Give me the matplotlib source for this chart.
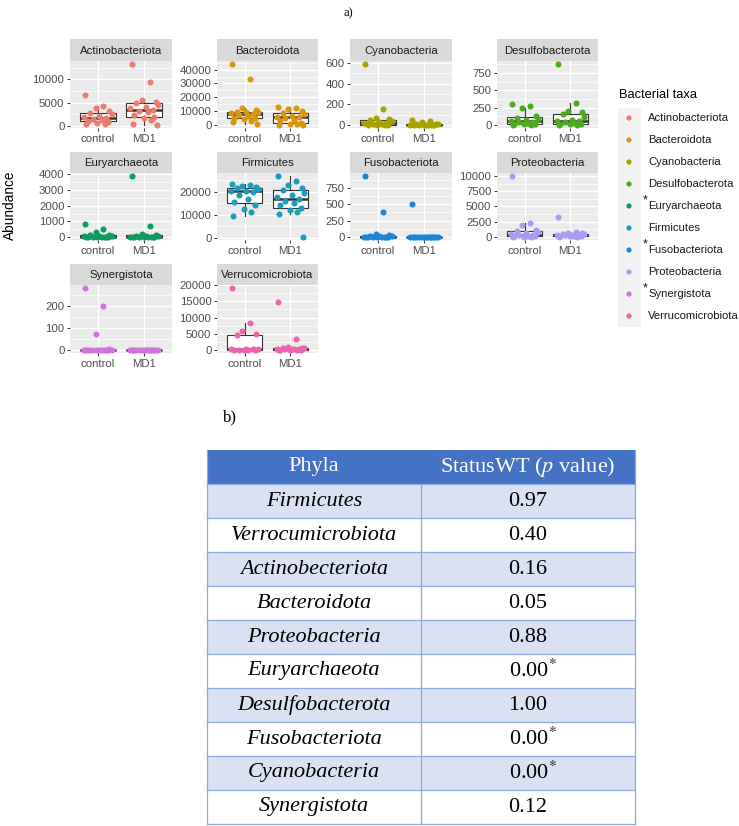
import numpy as np
import matplotlib
matplotlib.use("Agg")
import matplotlib.pyplot as plt
from matplotlib.patches import Rectangle

plt.rcParams["font.family"] = ["Liberation Sans", "DejaVu Sans"]
plt.rcParams["mathtext.fontset"] = "stix"

W, H = 739, 826

# ── panel a) data: abundance per phylum, control vs MD1 (read off the picture) ──
PHYLA = ["Actinobacteriota", "Bacteroidota", "Cyanobacteria", "Desulfobacterota",
         "Euryarchaeota", "Firmicutes", "Fusobacteriota", "Proteobacteria",
         "Synergistota", "Verrucomicrobiota"]
GROUPS = ["control", "MD1"]
COLORS = ["#EE7B70", "#D7960E", "#A8A200", "#4DAA1C", "#0E9A62",
          "#1A9CBC", "#1B86D6", "#A89CF2", "#D073DC", "#EC64AE"]
STARRED = ["Euryarchaeota", "Fusobacteriota", "Synergistota"]

actino_ctrl = [6700, 4300, 3800, 3100, 2800, 2500, 2200, 1900, 1700, 1500, 1300, 1100, 900, 700, 500, 300]
actino_md1 = [13300, 9500, 5600, 5200, 4900, 4500, 4100, 3800, 3500, 3200, 2900, 2400, 2000, 1600, 1200, 300, 200]
bacte_ctrl = [44000, 33000, 12000, 11000, 9600, 9300, 9000, 8400, 7700, 7200, 6400, 5200, 4800, 4200, 3200, 2000, 1000]
bacte_md1 = [13000, 12000, 11200, 9800, 8400, 7600, 6800, 6000, 5500, 4700, 3600, 2600, 1200, 800, 500, 200, 0]
cyano_ctrl = [590, 155, 65, 55, 45, 35, 25, 20, 15, 10, 5, 3, 0, 0, 0]
cyano_md1 = [50, 42, 25, 12, 8, 6, 4, 3, 2, 1, 0, 0, 0, 0, 0]
desulfo_ctrl = [300, 270, 240, 130, 105, 90, 70, 55, 45, 40, 30, 20, 15, 10, 5, 0]
desulfo_md1 = [880, 310, 200, 180, 160, 110, 75, 62, 55, 45, 35, 20, 12, 8, 3, 0]
eury_ctrl = [820, 520, 300, 150, 100, 60, 40, 30, 20, 10, 5, 0, 0, 0, 0, 0]
eury_md1 = [3900, 700, 220, 150, 90, 50, 30, 20, 10, 5, 0, 0, 0, 0, 0, 0]
firm_ctrl = [23500, 23000, 22600, 22000, 21600, 21000, 20500, 20200, 20000, 18500, 17000, 15500, 14000, 12500, 11000, 9500]
firm_md1 = [26800, 24500, 23000, 21500, 20600, 19500, 18500, 17500, 16700, 16000, 15000, 14000, 13000, 12000, 11000, 10500, 300]
fuso_ctrl = [930, 380, 40, 25, 15, 10, 8, 5, 3, 2, 1, 0, 0, 0, 0, 0]
fuso_md1 = [500, 5, 3, 2, 1, 0, 0, 0, 0, 0, 0, 0, 0, 0, 0, 0]
proteo_ctrl = [10000, 2300, 2000, 1200, 950, 800, 600, 450, 350, 300, 200, 150, 100, 50, 20, 0]
proteo_md1 = [3300, 750, 650, 600, 500, 420, 380, 330, 300, 250, 200, 150, 120, 80, 40, 10]
syn_ctrl = [280, 200, 72, 2, 1, 0, 0, 0, 0, 0, 0, 0, 0, 0, 0, 0]
syn_md1 = [0, 0, 0, 0, 0, 0, 0, 0, 0, 0, 0, 0, 0, 0, 0, 0]
verru_ctrl = [19100, 8300, 5900, 4800, 4500, 400, 300, 200, 150, 100, 50, 20, 0, 0]
verru_md1 = [14800, 3500, 900, 700, 600, 500, 400, 300, 250, 200, 150, 100, 80, 50, 20, 0]

DATA = [(actino_ctrl, actino_md1), (bacte_ctrl, bacte_md1), (cyano_ctrl, cyano_md1),
        (desulfo_ctrl, desulfo_md1), (eury_ctrl, eury_md1), (firm_ctrl, firm_md1),
        (fuso_ctrl, fuso_md1), (proteo_ctrl, proteo_md1), (syn_ctrl, syn_md1),
        (verru_ctrl, verru_md1)]

YTICKS = [[0, 5000, 10000], [0, 10000, 20000, 30000, 40000], [0, 200, 400, 600],
          [0, 250, 500, 750], [0, 1000, 2000, 3000, 4000], [0, 10000, 20000],
          [0, 250, 500, 750], [0, 2500, 5000, 7500, 10000], [0, 100, 200],
          [0, 5000, 10000, 15000, 20000]]

# ── panel b) data: Wilcoxon test p values ──
TABLE_PHYLA = ["Firmicutes", "Verrocumicrobiota", "Actinobecteriota", "Bacteroidota",
               "Proteobacteria", "Euryarchaeota", "Desulfobacterota", "Fusobacteriota",
               "Cyanobacteria", "Synergistota"]
P_VALUES = [0.97, 0.40, 0.16, 0.05, 0.88, 0.00, 1.00, 0.00, 0.00, 0.12]
SIGNIF = [False, False, False, False, False, True, False, True, True, False]

# fixed horizontal jitter offsets (cycled)
JITTER = [-0.27, 0.12, -0.05, 0.25, -0.17, 0.30, 0.03, -0.30, 0.18, -0.11,
          0.08, -0.22, 0.22, -0.01, 0.15, -0.25, 0.28]

COL_X = [(70, 172), (217, 318), (350, 452), (497, 598)]
ROW_Y = [(39, 61, 128), (152, 173, 240), (264, 285, 353)]

fig = plt.figure(figsize=(W / 100, H / 100), dpi=100)


def px_axes(x0, y0, x1, y1):
    return fig.add_axes([x0 / W, 1 - y1 / H, (x1 - x0) / W, (y1 - y0) / H])


for i, name in enumerate(PHYLA):
    r, c = divmod(i, 4)
    x0, x1 = COL_X[c]
    ys, yp, yb = ROW_Y[r]
    # strip
    st = px_axes(x0, ys, x1, yp)
    st.set_facecolor("#D9D9D9")
    st.set_xticks([]); st.set_yticks([])
    for s in st.spines.values():
        s.set_visible(False)
    st.text(0.5, 0.47, name, ha="center", va="center", fontsize=8.2,
            color="#1A1A1A", transform=st.transAxes)

    ax = px_axes(x0, yp, x1, yb)
    ax.set_facecolor("#EBEBEB")
    ctrl, md1 = DATA[i]
    lo = min(min(ctrl), min(md1)); hi = max(max(ctrl), max(md1))
    pad = 0.05 * (hi - lo) if hi > lo else 1
    ax.set_ylim(lo - pad, hi + pad)
    ax.set_xlim(0.4, 2.6)

    ax.boxplot([ctrl, md1], positions=[1, 2], widths=0.78, showfliers=False,
               showcaps=False, patch_artist=True,
               boxprops=dict(facecolor="white", edgecolor="#333333", lw=0.8),
               whiskerprops=dict(color="#333333", lw=0.8),
               medianprops=dict(color="#333333", lw=1.8), zorder=2)
    for g, vals in enumerate([ctrl, md1]):
        xs = [g + 1 + JITTER[k % len(JITTER)] for k in range(len(vals))]
        ax.scatter(xs, vals, s=19, color=COLORS[i], lw=0, zorder=3)

    majors = YTICKS[i]
    step = majors[1] - majors[0]
    minors = [m + step / 2 for m in [majors[0] - step] + majors
              if lo - pad <= m + step / 2 <= hi + pad]
    ax.set_yticks(majors)
    ax.set_yticklabels([str(t) for t in majors])
    ax.set_yticks(minors, minor=True)
    ax.set_xticks([1, 2])
    ax.set_xticklabels(GROUPS)
    ax.set_axisbelow(True)
    ax.grid(which="major", color="white", lw=1.0)
    ax.grid(which="minor", axis="y", color="white", lw=0.5)
    ax.tick_params(which="major", length=2.5, width=0.7, color="#333333",
                   labelsize=8.2, labelcolor="#4D4D4D", pad=1.5)
    ax.tick_params(which="minor", length=0)
    for s in ax.spines.values():
        s.set_visible(False)

fig.text(10 / W, 1 - 205 / H, "Abundance", rotation=90, ha="center", va="center",
         fontsize=9.8, color="black")
fig.text(348 / W, 1 - 13 / H, "a)", ha="center", va="center", fontsize=9,
         family="Liberation Serif")

# legend, drawn on an overlay axes in pixel units
ov = fig.add_axes([0, 0, 1, 1], zorder=-1)
ov.set_xlim(0, W); ov.set_ylim(H, 0)
ov.axis("off")
ov.text(619, 95, "Bacterial taxa", ha="left", va="center", fontsize=9.3)
ov.add_patch(Rectangle((618, 108), 23, 219, facecolor="#F2F2F2", edgecolor="none"))
key_y = [118 + 22 * k for k in range(len(PHYLA))]
ov.scatter([629] * len(PHYLA), key_y, s=14, c=COLORS, lw=0)
for k, name in enumerate(PHYLA):
    ov.text(648, key_y[k], name, ha="left", va="center", fontsize=8.1, color="#1A1A1A")
    if name in STARRED:
        ov.text(645, key_y[k] - 6, "*", ha="center", va="center", fontsize=9,
                color="#1A1A1A")

# ── panel b) table ──
fig.text(230 / W, 1 - 417 / H, "b)", ha="center", va="center", fontsize=12,
         family="Liberation Serif")
tab = px_axes(207, 450, 635, 824)
nrows = len(TABLE_PHYLA) + 1
tab.set_xlim(0, 1); tab.set_ylim(nrows, 0)
tab.axis("off")
tab.add_patch(Rectangle((0, 0), 1, 1, facecolor="#4472C4", edgecolor="none"))
for k in range(len(TABLE_PHYLA)):
    fc = "#D9E1F2" if k % 2 == 0 else "white"
    tab.add_patch(Rectangle((0, k + 1), 1, 1, facecolor=fc, edgecolor="none"))
for k in range(1, nrows + 1):
    tab.plot([0, 1], [k, k], color="#8EA9DB", lw=0.9, clip_on=False)
tab.plot([0, 0], [0, nrows], color="#8EA9DB", lw=0.9, clip_on=False)
tab.plot([1, 1], [0, nrows], color="#8EA9DB", lw=0.9, clip_on=False)
tab.plot([0.5, 0.5], [1, nrows], color="#8EA9DB", lw=0.9, clip_on=False)

serif = "Liberation Serif"
tab.text(0.25, 0.5, "Phyla", ha="center", va="center", fontsize=16,
         color="white", family=serif)
tab.text(0.75, 0.5, "StatusWT ($p$ value)", ha="center", va="center",
         fontsize=16, color="white", family=serif)
for k, (name, p, sig) in enumerate(zip(TABLE_PHYLA, P_VALUES, SIGNIF)):
    yc = k + 1.5
    tab.text(0.25, yc, name, ha="center", va="center", fontsize=16,
             style="italic", family=serif)
    label = f"{p:.2f}" + ("$^{*}$" if sig else "")
    tab.text(0.75 + (0.012 if sig else 0), yc, label, ha="center", va="center",
             fontsize=16, family=serif)

fig.savefig("out.png", dpi=100)
